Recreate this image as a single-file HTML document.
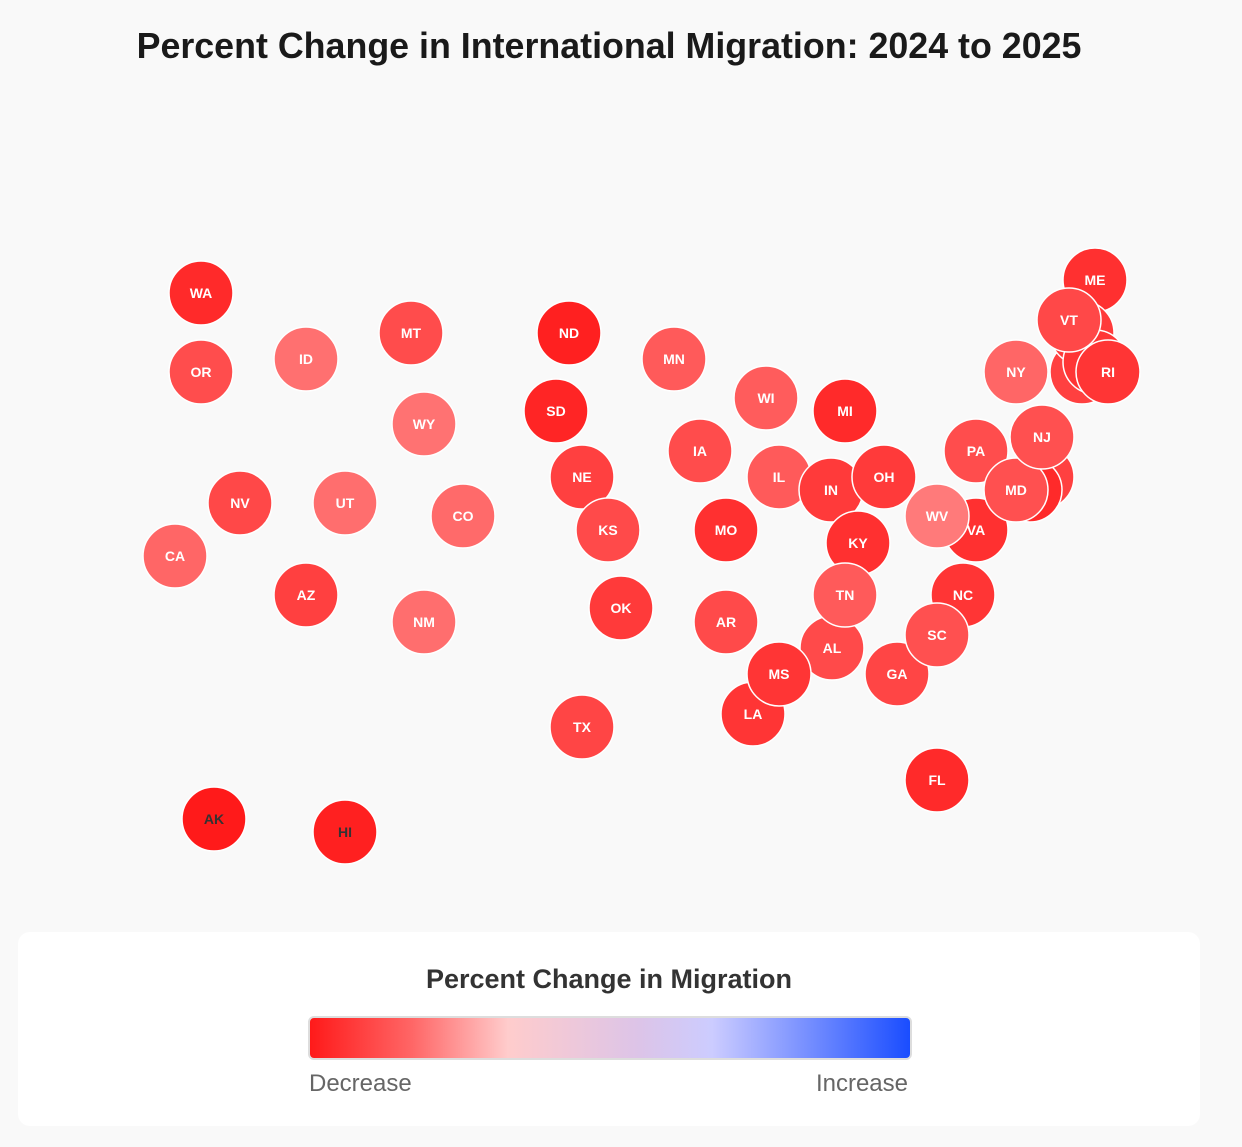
<!DOCTYPE html>
<html><head><meta charset="utf-8"><style>
body{margin:0;background:#f9f9f9;font-family:"Liberation Sans",sans-serif;}
.t{position:absolute;left:0;width:1218px;text-align:center;top:26px;font-size:35.8px;font-weight:bold;color:#1a1a1a;}
.lg{position:absolute;left:18px;top:932px;width:1182px;height:194px;background:#fff;border-radius:12px;}
.lt{position:absolute;left:0;width:1182px;text-align:center;top:32px;font-size:27px;font-weight:bold;color:#333;}
.bar{position:absolute;left:290px;top:84px;width:600px;height:40px;border:2px solid #ddd;border-radius:6px;background:linear-gradient(to right,#ff1a1a,#ff6666 17%,#ffcccc 33%,#dcc4e8 55%,#ccccff 67%,#1a4dff);}
.l{position:absolute;top:138px;font-size:24px;color:#666;}
</style></head><body>
<div class="t">Percent Change in International Migration: 2024 to 2025</div>
<svg width="1242" height="930" style="position:absolute;left:0;top:0" font-family="Liberation Sans" font-weight="bold" font-size="14" text-anchor="middle">
<g stroke="#fff" stroke-width="1.5">
<circle cx="201" cy="293" r="32" fill="#ff2a2a"/><circle cx="201" cy="372" r="32" fill="#ff4d4d"/>
<circle cx="306" cy="359" r="32" fill="#ff7070"/><circle cx="411" cy="333" r="32" fill="#ff4c4c"/>
<circle cx="569" cy="333" r="32" fill="#ff2020"/><circle cx="674" cy="359" r="32" fill="#ff5a5a"/>
<circle cx="766" cy="398" r="32" fill="#ff5c5c"/><circle cx="845" cy="411" r="32" fill="#ff2a2a"/>
<circle cx="556" cy="411" r="32" fill="#ff2525"/><circle cx="424" cy="424" r="32" fill="#ff7272"/>
<circle cx="240" cy="503" r="32" fill="#ff4848"/><circle cx="345" cy="503" r="32" fill="#ff6e6e"/>
<circle cx="463" cy="516" r="32" fill="#ff6a6a"/><circle cx="175" cy="556" r="32" fill="#ff6666"/>
<circle cx="582" cy="477" r="32" fill="#ff4040"/><circle cx="608" cy="530" r="32" fill="#ff4a4a"/>
<circle cx="700" cy="451" r="32" fill="#ff4c4c"/><circle cx="779" cy="477" r="32" fill="#ff5a5a"/>
<circle cx="831" cy="490" r="32" fill="#ff3a3a"/><circle cx="884" cy="477" r="32" fill="#ff3a3a"/>
<circle cx="726" cy="530" r="32" fill="#ff3030"/><circle cx="858" cy="543" r="32" fill="#ff3030"/>
<circle cx="976" cy="530" r="32" fill="#ff3030"/><circle cx="937" cy="516" r="32" fill="#ff7a7a"/>
<circle cx="976" cy="451" r="32" fill="#ff4d4d"/>
<circle cx="1042" cy="477" r="32" fill="#ff4040"/><circle cx="1030" cy="490" r="32" fill="#ff2a2a"/>
<circle cx="1016" cy="490" r="32" fill="#ff5050"/><circle cx="1042" cy="437" r="32" fill="#ff5050"/>
<circle cx="1016" cy="372" r="32" fill="#ff6666"/>
<circle cx="1095" cy="280" r="32" fill="#ff3030"/>
<circle cx="1082" cy="372" r="32" fill="#ff4040"/><circle cx="1082" cy="333" r="32" fill="#ff3a3a"/>
<circle cx="1095" cy="362" r="32" fill="#ff3535"/>
<circle cx="1069" cy="320" r="32" fill="#ff4848"/><circle cx="1108" cy="372" r="32" fill="#ff3535"/>
<circle cx="306" cy="595" r="32" fill="#ff4040"/><circle cx="424" cy="622" r="32" fill="#ff6e6e"/>
<circle cx="621" cy="608" r="32" fill="#ff3a3a"/><circle cx="726" cy="622" r="32" fill="#ff4a4a"/>
<circle cx="832" cy="648" r="32" fill="#ff4a4a"/><circle cx="845" cy="595" r="32" fill="#ff5a5a"/>
<circle cx="963" cy="595" r="32" fill="#ff3535"/><circle cx="897" cy="674" r="32" fill="#ff4545"/>
<circle cx="937" cy="635" r="32" fill="#ff5050"/>
<circle cx="753" cy="714" r="32" fill="#ff3535"/><circle cx="779" cy="674" r="32" fill="#ff3535"/>
<circle cx="582" cy="727" r="32" fill="#ff4545"/><circle cx="937" cy="780" r="32" fill="#ff2a2a"/>
<circle cx="214" cy="819" r="32" fill="#ff1a1a"/><circle cx="345" cy="832" r="32" fill="#ff2020"/>
</g>
<g fill="#fff">
<text x="201" y="298">WA</text><text x="201" y="377">OR</text><text x="306" y="364">ID</text><text x="411" y="338">MT</text>
<text x="569" y="338">ND</text><text x="674" y="364">MN</text><text x="766" y="403">WI</text><text x="845" y="416">MI</text>
<text x="556" y="416">SD</text><text x="424" y="429">WY</text><text x="240" y="508">NV</text><text x="345" y="508">UT</text>
<text x="463" y="521">CO</text><text x="175" y="561">CA</text><text x="582" y="482">NE</text><text x="608" y="535">KS</text>
<text x="700" y="456">IA</text><text x="779" y="482">IL</text><text x="831" y="495">IN</text><text x="884" y="482">OH</text>
<text x="726" y="535">MO</text><text x="858" y="548">KY</text><text x="976" y="535">VA</text><text x="937" y="521">WV</text>
<text x="976" y="456">PA</text><text x="1016" y="495">MD</text><text x="1042" y="442">NJ</text><text x="1016" y="377">NY</text>
<text x="1095" y="285">ME</text><text x="1069" y="325">VT</text><text x="1108" y="377">RI</text>
<text x="306" y="600">AZ</text><text x="424" y="627">NM</text><text x="621" y="613">OK</text><text x="726" y="627">AR</text>
<text x="832" y="653">AL</text><text x="845" y="600">TN</text><text x="963" y="600">NC</text><text x="897" y="679">GA</text>
<text x="937" y="640">SC</text><text x="753" y="719">LA</text><text x="779" y="679">MS</text><text x="582" y="732">TX</text>
<text x="937" y="785">FL</text>
<text x="214" y="824" fill="#333">AK</text><text x="345" y="837" fill="#333">HI</text>
</g>
</svg>
<div class="lg"><div class="lt">Percent Change in Migration</div><div class="bar"></div>
<div class="l" style="left:291px">Decrease</div><div class="l" style="right:292px">Increase</div></div>
</body></html>
